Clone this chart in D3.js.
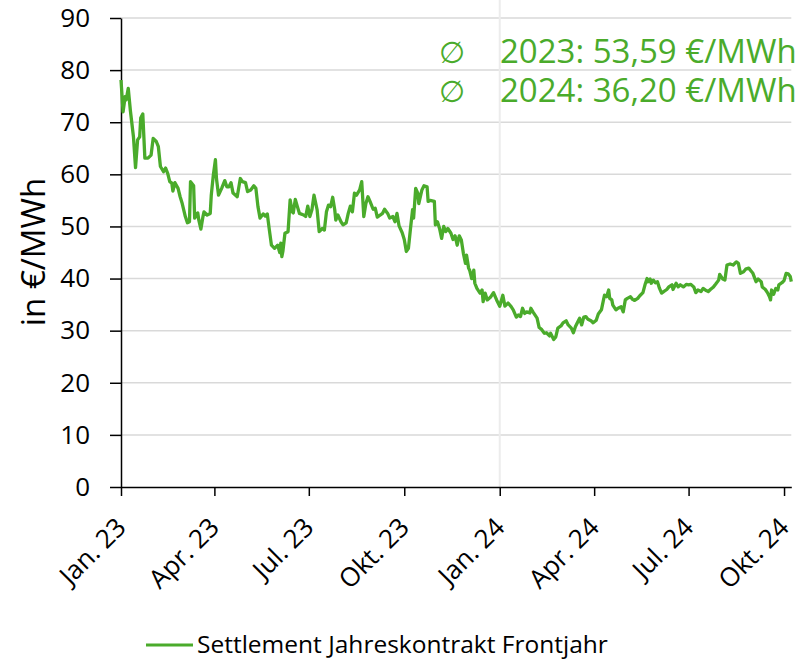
<!DOCTYPE html>
<html>
<head>
<meta charset="utf-8">
<script src="https://cdn.jsdelivr.net/npm/d3@7"></script>
<style>
  body { margin: 0; background: #fff; }
  svg { display: block; font-family: "Open Sans", sans-serif; }
</style>
</head>
<body>
<svg id="chart" width="806" height="660"></svg>
<script>
// days since 1 Jan 2023 (trading days)
var dayOffsets = [
  0, 2, 4, 5, 7, 9, 12, 14, 16, 18, 19, 21, 23, 26, 29, 31, 34, 36, 38, 41,
  43, 45, 47, 49, 50, 52, 55, 57, 59, 62, 64, 66, 67, 70, 71, 74, 75, 77, 79, 80,
  83, 86, 87, 89, 91, 92, 94, 97, 100, 102, 104, 106, 108, 112, 115, 117, 120, 122, 125, 128,
  130, 132, 134, 137, 139, 141, 143, 145, 148, 151, 153, 154, 155, 156, 158, 161, 163, 165, 166, 168,
  170, 172, 176, 178, 180, 182, 184, 186, 189, 191, 194, 196, 198, 200, 202, 204, 206, 207, 209, 212,
  214, 217, 219, 221, 223, 225, 227, 230, 232, 234, 236, 238, 240, 243, 245, 247, 250, 252, 254, 257,
  259, 262, 264, 266, 268, 271, 273, 275, 277, 279, 281, 282, 284, 286, 287, 290, 292, 295, 296, 298,
  302, 303, 305, 307, 309, 311, 313, 315, 318, 320, 322, 324, 326, 328, 330, 332, 333, 335, 336, 338,
  340, 341, 343, 346, 348, 349, 351, 353, 356, 359, 362, 365, 368, 370, 373, 376, 378, 381, 383, 385,
  387, 389, 391, 394, 395, 397, 401, 403, 405, 408, 410, 413, 414, 417, 419, 421, 424, 426, 429, 431,
  434, 436, 438, 441, 442, 444, 446, 448, 450, 453, 455, 458, 460, 463, 465, 466, 468, 470, 471, 473,
  474, 477, 479, 482, 484, 486, 488, 491, 493, 495, 498, 500, 503, 505, 507, 508, 510, 511, 513, 515,
  517, 519, 521, 523, 526, 528, 531, 532, 535, 537, 539, 542, 545, 547, 549, 552, 554, 556, 559, 561,
  564, 566, 568, 571, 573, 576, 577, 580, 582, 584, 587, 590, 593, 595, 597, 600, 602, 605, 607, 609,
  612, 614, 617, 618, 621, 623, 625, 626, 627, 629, 631, 633, 634, 637, 639, 641, 643, 645, 646
];

// Settlement Jahreskontrakt Frontjahr, €/MWh
var prices = [
  78.1, 72.0, 74.9, 74.3, 76.5, 72.3, 67.2, 61.3, 66.6, 67.2, 70.8, 71.6, 63.1, 63.1, 63.7, 66.9, 66.3, 65.3, 61.5, 60.5,
  61.2, 60.2, 58.6, 58.3, 56.8, 58.4, 57.3, 55.7, 54.4, 51.9, 50.7, 50.9, 58.6, 57.8, 51.6, 52.6, 51.2, 49.5, 51.9, 52.8,
  52.2, 52.5, 56.0, 59.9, 62.8, 59.2, 56.0, 57.3, 58.8, 57.6, 57.6, 58.4, 56.4, 55.7, 59.2, 58.6, 58.4, 56.7, 57.0, 57.8,
  57.3, 53.8, 51.6, 52.4, 52.0, 52.4, 49.3, 46.4, 45.8, 46.4, 45.0, 46.8, 44.2, 45.2, 48.7, 49.0, 55.1, 52.8, 52.6, 55.2,
  53.8, 52.5, 52.2, 51.9, 53.9, 51.9, 53.2, 56.0, 53.2, 49.0, 49.6, 49.3, 52.8, 54.1, 53.8, 55.6, 53.2, 51.2, 52.2, 50.9,
  50.3, 50.7, 52.5, 53.9, 52.8, 56.4, 56.0, 57.0, 58.6, 51.9, 54.4, 55.7, 54.8, 53.3, 53.5, 51.8, 52.2, 52.5, 53.3, 52.5,
  51.6, 51.9, 50.9, 52.5, 50.1, 48.8, 47.5, 45.2, 45.8, 49.6, 53.2, 51.6, 57.3, 56.4, 54.4, 57.0, 57.8, 57.6, 54.8, 55.0,
  54.8, 50.3, 50.9, 49.6, 47.7, 50.0, 49.0, 49.6, 48.7, 47.5, 48.2, 46.4, 48.2, 47.4, 44.8, 42.9, 44.5, 42.0, 41.6, 40.0,
  41.6, 39.1, 38.1, 37.2, 37.8, 35.6, 37.2, 35.9, 36.4, 37.3, 35.9, 34.7, 36.8, 34.7, 35.3, 34.6, 34.0, 32.6, 33.0, 32.7,
  34.3, 33.3, 33.6, 33.4, 34.3, 33.6, 32.4, 30.6, 30.3, 29.5, 29.6, 29.0, 29.5, 28.3, 28.8, 30.5, 30.9, 31.5, 31.9, 31.1,
  30.5, 29.6, 30.8, 32.0, 32.4, 31.1, 32.6, 32.7, 32.2, 31.9, 31.5, 32.0, 33.2, 34.0, 35.9, 36.8, 36.5, 37.8, 36.2, 35.9,
  34.9, 34.0, 34.3, 34.6, 33.6, 35.9, 36.2, 36.5, 36.0, 35.8, 36.2, 36.7, 37.3, 38.8, 40.0, 39.4, 39.9, 39.1, 39.7, 39.2,
  39.4, 38.1, 37.2, 37.5, 37.9, 38.4, 38.8, 37.9, 39.1, 38.4, 38.8, 38.4, 38.9, 38.8, 38.9, 38.4, 37.3, 37.8, 37.5, 38.1,
  37.7, 37.5, 37.9, 38.4, 38.9, 39.7, 40.8, 39.9, 39.7, 42.6, 42.8, 42.6, 43.2, 42.9, 41.0, 41.3, 41.8, 42.0, 41.5, 41.0,
  39.4, 39.9, 39.4, 38.4, 37.9, 37.3, 36.5, 35.9, 37.8, 37.0, 38.1, 37.8, 38.8, 39.2, 39.6, 41.0, 40.9, 40.4, 39.4
];

var tickDates = ["2023-01-01", "2023-04-01", "2023-07-01", "2023-10-01",
                 "2024-01-01", "2024-04-01", "2024-07-01", "2024-10-01"];
var tickLabels = ["Jan. 23", "Apr. 23", "Jul. 23", "Okt. 23",
                  "Jan. 24", "Apr. 24", "Jul. 24", "Okt. 24"];
var yTicks = [0, 10, 20, 30, 40, 50, 60, 70, 80, 90];
var averages = ["2023: 53,59 €/MWh", "2024: 36,20 €/MWh"];
var seriesName = "Settlement Jahreskontrakt Frontjahr";

function draw() {
    var green = "#4aab2b";
    var start = new Date(Date.UTC(2023, 0, 1));
    var data = dayOffsets.map(function(d, i) {
        return { date: d3.utcDay.offset(start, d), value: prices[i] };
    });

    var svg = d3.select("#chart");
    var plotLeft = 121, plotRight = 791.3, plotTop = 18, plotBottom = 487;

    var x = d3.scaleUtc()
        .domain([start, new Date(Date.UTC(2024, 9, 8))])
        .range([plotLeft, plotRight]);
    var y = d3.scaleLinear().domain([0, 90]).range([plotBottom, plotTop]);

    // horizontal gridlines
    svg.append("g").selectAll("line")
        .data(yTicks.slice(1))
        .enter().append("line")
        .attr("x1", plotLeft).attr("x2", plotRight)
        .attr("y1", function(d) { return y(d); })
        .attr("y2", function(d) { return y(d); })
        .attr("stroke", "#d9d9d9")
        .attr("stroke-width", 1.5);

    // year separator
    var jan24 = new Date(Date.UTC(2024, 0, 1));
    svg.append("line")
        .attr("x1", x(jan24)).attr("x2", x(jan24))
        .attr("y1", 0).attr("y2", plotBottom)
        .attr("stroke", "#ececec")
        .attr("stroke-width", 2);

    // y axis
    var yAxis = svg.append("g")
        .attr("transform", "translate(" + plotLeft + ",0)")
        .call(d3.axisLeft(y).tickValues(yTicks).tickSize(11).tickSizeOuter(0).tickPadding(20));
    yAxis.select(".domain").attr("stroke", "#000").attr("stroke-width", 1.5);
    yAxis.selectAll(".tick line").attr("stroke", "#000").attr("stroke-width", 1.5);
    yAxis.selectAll(".tick text")
        .attr("font-family", "Open Sans")
        .attr("font-size", 26)
        .attr("fill", "#000");

    // x axis
    var xAxis = svg.append("g")
        .attr("transform", "translate(0," + plotBottom + ")")
        .call(d3.axisBottom(x)
            .tickValues(tickDates.map(function(s) { return new Date(s + "T00:00:00Z"); }))
            .tickFormat(function(d, i) { return tickLabels[i]; })
            .tickSize(9).tickSizeOuter(0));
    xAxis.select(".domain").attr("stroke", "#000").attr("stroke-width", 1.5);
    xAxis.selectAll(".tick line").attr("stroke", "#000").attr("stroke-width", 1.5);
    xAxis.selectAll(".tick text")
        .attr("font-family", "Open Sans")
        .attr("font-size", 26)
        .attr("fill", "#000")
        .attr("text-anchor", "end")
        .attr("x", 0).attr("y", 0).attr("dy", 0)
        .attr("transform", "translate(6,42) rotate(-45)");

    // y label
    svg.append("text")
        .attr("transform", "translate(45,252) rotate(-90)")
        .attr("text-anchor", "middle")
        .attr("font-size", 33)
        .attr("fill", "#000")
        .text("in €/MWh");

    // price line
    var line = d3.line()
        .x(function(d) { return x(d.date); })
        .y(function(d) { return y(d.value); });

    svg.append("path")
        .datum(data)
        .attr("d", line)
        .attr("fill", "none")
        .attr("stroke", green)
        .attr("stroke-width", 3.3)
        .attr("stroke-linejoin", "round");

    // averages
    var avg = svg.append("g");
    averages.forEach(function(t, i) {
        var by = 63 + i * 39;
        avg.append("text")
            .attr("x", 452).attr("y", by)
            .attr("text-anchor", "middle")
            .attr("font-family", "DejaVu Sans")
            .attr("font-size", 30)
            .attr("fill", green)
            .text("∅");
        avg.append("text")
            .attr("x", 500).attr("y", by)
            .attr("font-size", 33)
            .attr("fill", green)
            .text(t);
    });

    // legend
    var legend = svg.append("g");
    legend.append("line")
        .attr("x1", 146).attr("x2", 193)
        .attr("y1", 645).attr("y2", 645)
        .attr("stroke", green)
        .attr("stroke-width", 3);
    legend.append("text")
        .attr("x", 197).attr("y", 653)
        .attr("font-size", 24.5)
        .attr("fill", "#000")
        .text(seriesName);
}

draw();
</script>
</body>
</html>
